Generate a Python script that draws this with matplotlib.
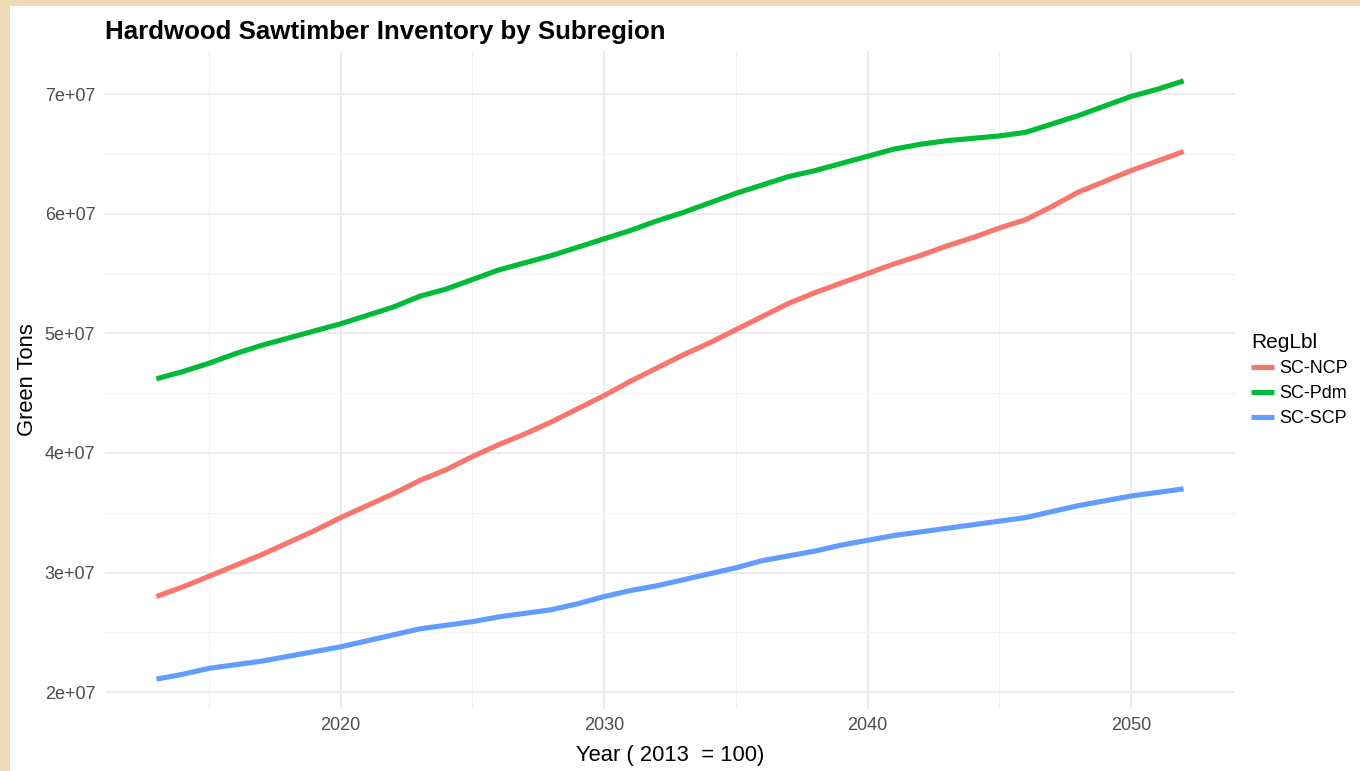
import matplotlib.pyplot as plt
from matplotlib.patches import Rectangle
from matplotlib.ticker import FixedLocator, FuncFormatter

# inventory by year, green tons (millions)
years = list(range(2013, 2053))

sc_ncp = [28.0, 28.8, 29.7, 30.6, 31.5, 32.5, 33.5, 34.6, 35.6, 36.6,
          37.7, 38.6, 39.7, 40.7, 41.6, 42.6, 43.7, 44.8, 46.0, 47.1,
          48.2, 49.2, 50.3, 51.4, 52.5, 53.4, 54.2, 55.0, 55.8, 56.5,
          57.3, 58.0, 58.8, 59.5, 60.6, 61.8, 62.7, 63.6, 64.4, 65.2]

sc_pdm = [46.2, 46.8, 47.5, 48.3, 49.0, 49.6, 50.2, 50.8, 51.5, 52.2,
          53.1, 53.7, 54.5, 55.3, 55.9, 56.5, 57.2, 57.9, 58.6, 59.4,
          60.1, 60.9, 61.7, 62.4, 63.1, 63.6, 64.2, 64.8, 65.4, 65.8,
          66.1, 66.3, 66.5, 66.8, 67.5, 68.2, 69.0, 69.8, 70.4, 71.1]

sc_scp = [21.1, 21.5, 22.0, 22.3, 22.6, 23.0, 23.4, 23.8, 24.3, 24.8,
          25.3, 25.6, 25.9, 26.3, 26.6, 26.9, 27.4, 28.0, 28.5, 28.9,
          29.4, 29.9, 30.4, 31.0, 31.4, 31.8, 32.3, 32.7, 33.1, 33.4,
          33.7, 34.0, 34.3, 34.6, 35.1, 35.6, 36.0, 36.4, 36.7, 37.0]

region_labels = ['SC-NCP', 'SC-Pdm', 'SC-SCP']
region_colors = ['#F8766D', '#00BA38', '#619CFF']

x_major = [2020, 2030, 2040, 2050]
x_minor = [2015, 2025, 2035, 2045]
y_major = [2e7, 3e7, 4e7, 5e7, 6e7, 7e7]
y_minor = [2.5e7, 3.5e7, 4.5e7, 5.5e7, 6.5e7]

plt.rcParams['font.family'] = ['Liberation Sans', 'DejaVu Sans']

fig = plt.figure(figsize=(13.6, 7.71), dpi=100)
fig.patch.set_facecolor('#efd9b6')
# white card sitting on the wooden frame
card = Rectangle((10 / 1360, 0), 1, (771 - 6) / 771,
                 transform=fig.transFigure, facecolor='white',
                 edgecolor='none', zorder=-5)
fig.add_artist(card)

ax = fig.add_axes([105 / 1360, 1 - 709 / 771, 1130 / 1360, 658 / 771])
ax.set_facecolor('white')

for vals, lbl, col in zip([sc_ncp, sc_pdm, sc_scp], region_labels, region_colors):
    ax.plot(years, [v * 1e6 for v in vals], color=col, lw=3.7,
            solid_capstyle='butt', label=lbl, zorder=3)

all_vals = [v * 1e6 for v in sc_ncp + sc_pdm + sc_scp]
lo, hi = min(all_vals), max(all_vals)
pad = (hi - lo) * 0.05
ax.set_ylim(lo - pad, hi + pad)
xpad = (years[-1] - years[0]) * 0.05
ax.set_xlim(years[0] - xpad, years[-1] + xpad)

ax.xaxis.set_major_locator(FixedLocator(x_major))
ax.xaxis.set_minor_locator(FixedLocator(x_minor))
ax.yaxis.set_major_locator(FixedLocator(y_major))
ax.yaxis.set_minor_locator(FixedLocator(y_minor))
ax.yaxis.set_major_formatter(FuncFormatter(lambda v, p: '%de+07' % round(v / 1e7)))

ax.grid(which='major', color='#ebebeb', lw=1.3, zorder=0)
ax.grid(which='minor', color='#f2f2f2', lw=0.8, zorder=0)
for s in ax.spines.values():
    s.set_visible(False)
ax.tick_params(which='both', length=0)
ax.tick_params(axis='y', pad=7, labelsize=13, labelcolor='#4d4d4d')
ax.tick_params(axis='x', pad=6, labelsize=13, labelcolor='#4d4d4d')

ax.set_xlabel('Year ( 2013  = 100)', fontsize=15.8, color='black', labelpad=8)
ax.set_ylabel('Green Tons', fontsize=15.8, color='black', labelpad=5)
ax.set_title('Hardwood Sawtimber Inventory by Subregion', loc='left',
             fontsize=18.6, fontweight='bold', pad=9)

leg = ax.legend(title='RegLbl', loc='center left', bbox_to_anchor=(1.005, 0.5),
                frameon=False, fontsize=12.9, title_fontsize=15,
                handlelength=1.25, handletextpad=0.3, labelspacing=0.45,
                borderaxespad=0.2)
leg._legend_box.align = 'left'

fig.savefig('out.png', dpi=100, facecolor=fig.get_facecolor())
